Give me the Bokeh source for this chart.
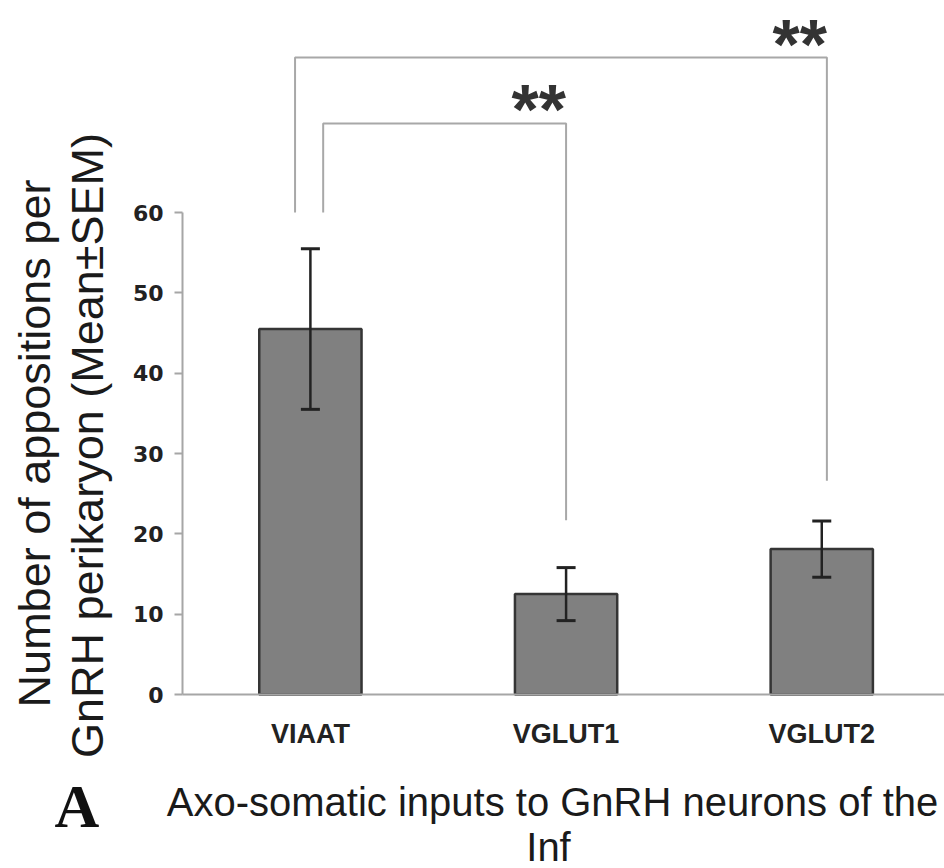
import math
from bokeh.plotting import figure
from bokeh.models import Range1d, FixedTicker, Whisker, TeeHead, ColumnDataSource, Label
from bokeh.core.properties import value
from bokeh.embed import file_html
from bokeh.resources import INLINE

# ---- data ----
categories = ["VIAAT", "VGLUT1", "VGLUT2"]
means = [45.5, 12.5, 18.1]
sems = [10.0, 3.3, 3.5]
y_ticks = [0, 10, 20, 30, 40, 50, 60]

# significance brackets (outer: VIAAT-VGLUT2, inner: VIAAT-VGLUT1)
bracket_left = [-0.06, 0.05]
bracket_right = [2.02, 1.0]
bracket_top = [79.3, 71.1]
bracket_left_end = [60.0, 60.0]
bracket_right_end = [26.6, 21.7]
bracket_labels = ["**", "**"]

ylabel_lines = ["Number of appositions per", "GnRH perikaryon (Mean\u00b1SEM)"]
caption_lines = ["Axo-somatic inputs to GnRH neurons of the", "Inf"]
panel_letter = "A"

xs = list(range(len(categories)))
upper = [m + s for m, s in zip(means, sems)]
lower = [m - s for m, s in zip(means, sems)]

src = ColumnDataSource(dict(x=xs, top=means, upper=upper, lower=lower))

W, H = 944, 868
p = figure(width=W, height=H, output_backend="svg", toolbar_location=None,
           x_range=Range1d(-1.212, 2.48), y_range=Range1d(-21.66, 86.4),
           min_border=0)
p.outline_line_color = None
p.xgrid.visible = False
p.ygrid.visible = False
p.background_fill_color = "white"
p.border_fill_color = "white"

p.vbar(x="x", top="top", width=0.40, bottom=0, source=src,
       fill_color="#808080", line_color="#353535", line_width=2.5)

p.add_layout(Whisker(source=src, base="x", upper="upper", lower="lower", level="overlay",
                     line_color="#222222", line_width=2.5,
                     upper_head=TeeHead(size=19, line_color="#222222", line_width=3),
                     lower_head=TeeHead(size=19, line_color="#222222", line_width=3)))

# brackets
bx = [[l, l, r, r] for l, r in zip(bracket_left, bracket_right)]
by = [[le, t, t, re] for le, t, re in zip(bracket_left_end, bracket_top, bracket_right_end)]
p.multi_line(xs=bx, ys=by, line_color="#a8a8a8", line_width=2)
p.text(x=bracket_right, y=bracket_top, text=bracket_labels,
       text_align="right", text_baseline="alphabetic", y_offset=-13,
       text_font=value("Liberation Sans"), text_font_style="bold",
       text_font_size="70px", text_color="#333333")

# axes (fixed inside the frame so that the frame spans the whole canvas)
p.yaxis.fixed_location = -0.5
p.yaxis.ticker = FixedTicker(ticks=y_ticks)
p.yaxis.bounds = (0, 60)
p.yaxis.axis_line_color = "#a6a6a6"
p.yaxis.axis_line_width = 2
p.yaxis.major_tick_line_color = "#a6a6a6"
p.yaxis.major_tick_line_width = 2
p.yaxis.major_tick_out = 8
p.yaxis.major_tick_in = 0
p.yaxis.minor_tick_line_color = None
p.yaxis.major_label_standoff = 11
p.yaxis.major_label_text_font = "DejaVu Sans"
p.yaxis.major_label_text_font_style = "bold"
p.yaxis.major_label_text_font_size = "22px"
p.yaxis.major_label_text_color = "#222222"

p.xaxis.fixed_location = 0
p.xaxis.ticker = FixedTicker(ticks=xs)
p.xaxis.bounds = (-0.5, 2.48)
p.xaxis.major_label_overrides = {i: c for i, c in zip(xs, categories)}
p.xaxis.axis_line_color = "#a6a6a6"
p.xaxis.axis_line_width = 2
p.xaxis.major_tick_line_color = None
p.xaxis.minor_tick_line_color = None
p.xaxis.major_label_standoff = 18
p.xaxis.major_label_text_font = "Liberation Sans"
p.xaxis.major_label_text_font_style = "bold"
p.xaxis.major_label_text_font_size = "27px"
p.xaxis.major_label_text_color = "#222222"

# y label (two rotated lines); screen units measured from the frame's bottom-left
p.add_layout(Label(x=34, y=H - 443, x_units="screen", y_units="screen", text=ylabel_lines[0],
                   angle=math.pi / 2, text_align="center", text_baseline="middle",
                   text_font="Liberation Sans", text_font_size="45px", text_color="#1a1a1a"))
p.add_layout(Label(x=87, y=H - 445, x_units="screen", y_units="screen", text=ylabel_lines[1],
                   angle=math.pi / 2, text_align="center", text_baseline="middle",
                   text_font="Liberation Sans", text_font_size="45px", text_color="#1a1a1a"))

# caption
p.add_layout(Label(x=552, y=67, x_units="screen", y_units="screen", text=caption_lines[0],
                   text_align="center", text_baseline="alphabetic",
                   text_font="Liberation Sans", text_font_size="40px", text_color="#1a1a1a"))
p.add_layout(Label(x=548, y=22, x_units="screen", y_units="screen", text=caption_lines[1],
                   text_align="center", text_baseline="alphabetic",
                   text_font="Liberation Sans", text_font_size="40px", text_color="#1a1a1a"))
p.add_layout(Label(x=54, y=63, x_units="screen", y_units="screen", text=panel_letter,
                   text_align="left", text_baseline="alphabetic",
                   text_font="Liberation Serif", text_font_style="bold",
                   text_font_size="62px", text_color="#111111"))

open("out.html", "w").write(file_html(p, INLINE))
